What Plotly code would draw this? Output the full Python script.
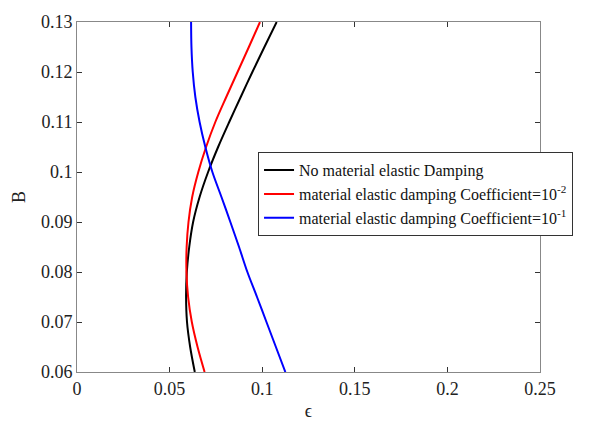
import plotly.graph_objects as go

# B values (y axis)
B = [0.06, 0.065, 0.07, 0.075, 0.08, 0.085, 0.09, 0.095, 0.10, 0.105, 0.11, 0.115, 0.12, 0.125, 0.13]

# epsilon values for each curve (x axis)
eps_none = [0.0636, 0.0611, 0.0594, 0.0589, 0.0593, 0.0606, 0.0627, 0.0662, 0.0708, 0.0762, 0.0822, 0.0884, 0.0947, 0.1012, 0.1078]
eps_1e2 = [0.0689, 0.0651, 0.0620, 0.0600, 0.0591, 0.0592, 0.0602, 0.0622, 0.0655, 0.0697, 0.0747, 0.0806, 0.0867, 0.0928, 0.0988]
eps_1e1 = [0.1125, 0.1074, 0.1023, 0.0972, 0.0920, 0.0875, 0.0828, 0.0780, 0.0731, 0.0693, 0.0662, 0.0639, 0.0625, 0.0618, 0.0616]

names = [
    "No material elastic Damping",
    "material elastic damping Coefficient=10<sup>-2</sup>",
    "material elastic damping Coefficient=10<sup>-1</sup>",
]
colors = ["#000000", "#ff0000", "#0000ff"]

x_ticks = [0, 0.05, 0.1, 0.15, 0.2, 0.25]
x_ticklabels = ["0", "0.05", "0.1", "0.15", "0.2", "0.25"]
y_ticks = [0.06, 0.07, 0.08, 0.09, 0.10, 0.11, 0.12, 0.13]
y_ticklabels = ["0.06", "0.07", "0.08", "0.09", "0.1", "0.11", "0.12", "0.13"]

fig = go.Figure()
for xs, name, c in zip([eps_none, eps_1e2, eps_1e1], names, colors):
    fig.add_trace(go.Scatter(x=xs, y=B, mode="lines", name=name,
                             line=dict(color=c, width=2, shape="spline", smoothing=0.9)))

font = "Liberation Serif, Times New Roman, serif"
axis_common = dict(
    showgrid=False, zeroline=False, showline=True, linecolor="#888888", linewidth=1,
    mirror="ticks", ticks="inside", ticklen=5, tickcolor="#333333", tickwidth=1,
    tickfont=dict(family=font, size=18, color="#222222"),
)
fig.update_layout(
    width=590, height=429,
    margin=dict(l=77, r=50, t=15, b=52),
    plot_bgcolor="white", paper_bgcolor="white",
    font=dict(family=font, size=18, color="#222222"),
    xaxis=dict(range=[0, 0.25], tickvals=x_ticks, ticktext=x_ticklabels,
               title=dict(text="ϵ", font=dict(family=font, size=18), standoff=6), **axis_common),
    yaxis=dict(range=[0.06, 0.13], tickvals=y_ticks, ticktext=y_ticklabels,
               title=dict(text="B", font=dict(family=font, size=18), standoff=10), **axis_common),
    legend=dict(x=0.391, y=0.628, xanchor="left", yanchor="top",
                bgcolor="white", bordercolor="#333333", borderwidth=1,
                font=dict(family=font, size=16, color="#111111"),
                tracegroupgap=0, itemwidth=30),
    showlegend=True,
)

fig.write_html("out.html")
